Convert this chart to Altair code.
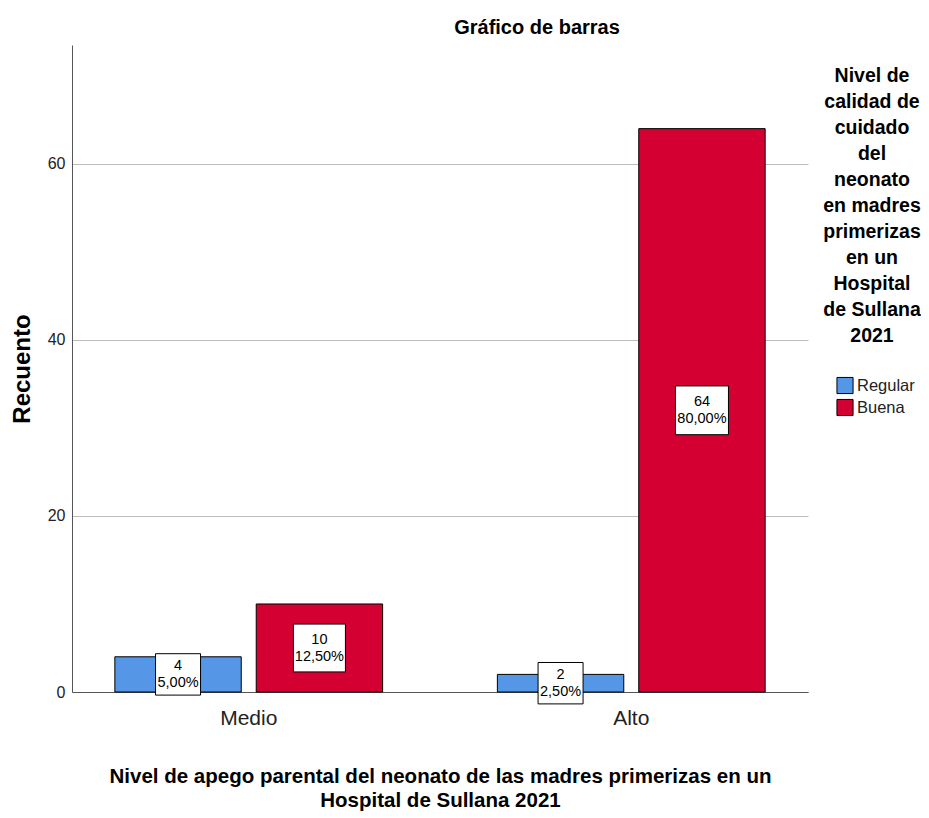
import altair as alt
import pandas as pd

categories = ["Medio", "Alto"]
groups = ["Regular", "Buena"]
nivel = ["Medio", "Medio", "Alto", "Alto"]
calidad = ["Regular", "Buena", "Regular", "Buena"]
counts = [4, 10, 2, 64]
pcts = [5.00, 12.50, 2.50, 80.00]
box_w = [45, 52, 45, 53]

colors = ["#5596E6", "#D50032"]
FONT = "Liberation Sans, Arial, sans-serif"

df = pd.DataFrame({"nivel": nivel, "calidad": calidad, "count": counts,
                   "pct": pcts, "bw": box_w})

legend_title = ["Nivel de", "calidad de", "cuidado", "del", "neonato", "en madres",
                "primerizas", "en un", "Hospital", "de Sullana", "2021"]

xenc = alt.X("nivel:N", sort=categories,
             scale=alt.Scale(paddingInner=0.3, paddingOuter=0.112),
             axis=alt.Axis(title=["Nivel de apego parental del neonato de las madres primerizas en un",
                                  "Hospital de Sullana 2021"],
                           titleFontSize=20.5, titleFont=FONT, titleFontWeight="bold",
                           titleColor="black", titlePadding=38, titleLineHeight=24,
                           labelFontSize=21, labelFont=FONT, labelColor="#222",
                           labelAngle=0, ticks=False, labelPadding=15,
                           domainColor="#555", grid=False))
xoff = alt.XOffset("calidad:N", sort=groups, scale=alt.Scale(paddingInner=0.106, paddingOuter=0))

base = alt.Chart(df)

bars = base.mark_bar(stroke="black", strokeWidth=1).encode(
    x=xenc,
    xOffset=xoff,
    y=alt.Y("count:Q", scale=alt.Scale(domain=[0, 73.5], nice=False),
            axis=alt.Axis(title="Recuento", titleFontSize=24, titleFont=FONT,
                          titleFontWeight="bold", titleColor="black", titlePadding=13,
                          values=[0, 20, 40, 60], ticks=False, labelFontSize=16,
                          labelFont=FONT, labelColor="#222", labelPadding=7,
                          grid=True, gridColor="#bdbdbd", domainColor="#555")),
    color=alt.Color("calidad:N", sort=groups,
                    scale=alt.Scale(domain=groups, range=colors),
                    legend=alt.Legend(title=legend_title, titleFontSize=19.5, titleFont=FONT,
                                      titleFontWeight="bold", titleColor="black",
                                      titleLineHeight=26, titleAlign="center",
                                      titleAnchor="middle", titlePadding=30,
                                      labelFontSize=16.5, labelFont=FONT, labelColor="#222",
                                      symbolType="square", symbolSize=260,
                                      symbolStrokeColor="black", symbolStrokeWidth=1,
                                      symbolOffset=6, rowPadding=0,
                                      labelOffset=3, orient="none",
                                      legendX=751, legendY=22)),
)

boxes = base.transform_calculate(
    mid="datum.count / 2",
    sz="datum.bw * datum.bw",
).mark_point(filled=True, fill="white", stroke="black", strokeWidth=1, opacity=1,
             shape="M-1,-0.92H1V0.92H-1Z").encode(
    x=alt.X("nivel:N", sort=categories),
    xOffset=xoff,
    y=alt.Y("mid:Q"),
    size=alt.Size("sz:Q", scale=None),
)

labels = base.transform_calculate(
    mid="datum.count / 2",
    lab="datum.count + '\\n' + replace(format(datum.pct, '.2f'), '.', ',') + '%'",
).mark_text(font=FONT, fontSize=14.5, color="black", lineBreak="\n",
            baseline="middle", lineHeight=17, dy=-8).encode(
    x=alt.X("nivel:N", sort=categories),
    xOffset=xoff,
    y=alt.Y("mid:Q"),
    text="lab:N",
)

chart = alt.layer(bars, boxes, labels).properties(
    width=736, height=647,
    title=alt.TitleParams("Gráfico de barras", fontSize=20, font=FONT,
                          fontWeight="bold", color="black", dx=97, offset=7),
    autosize=alt.AutoSizeParams(type="none"),
    padding={"left": 64, "top": 37, "right": 113, "bottom": 122},
).configure_view(stroke=None).configure_axisY(domain=True)

chart.save("out.html", embed_options={"renderer": "svg", "actions": False})
